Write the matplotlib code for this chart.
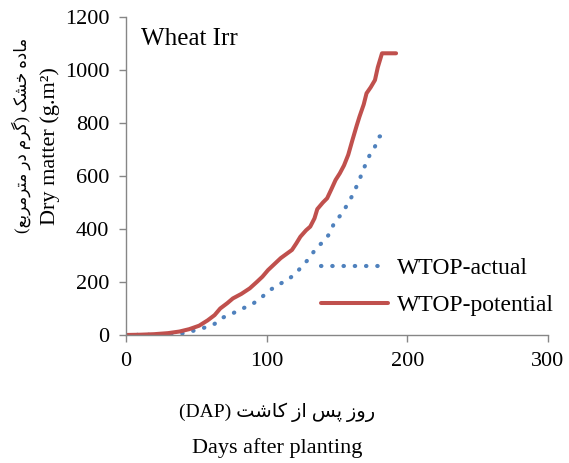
import matplotlib
matplotlib.use('Agg')
import matplotlib.pyplot as plt

# ---------------- data ----------------
days_act = [0, 20, 30, 40, 48, 56, 63, 69, 76, 83, 90, 96, 102, 108, 115, 121, 126,
            131, 135, 141, 145, 148, 153, 157, 161, 164, 167, 170, 173, 177, 180, 187]
wtop_act = [0, 1, 3, 6, 16, 28, 42, 66, 82, 100, 117, 140, 168, 189, 208, 234, 265,
            293, 328, 355, 385, 423, 455, 489, 527, 562, 600, 640, 676, 711, 749, 755]

days_pot = [0, 10, 20, 30, 38, 45, 52, 58, 63, 67, 72, 76, 82, 88, 93, 97, 101, 104,
            110, 118, 121, 124, 128, 131, 134, 136, 140, 143, 146, 149, 152, 155, 158,
            161, 164, 166, 169, 171, 174, 177, 179, 182, 192]
wtop_pot = [0, 1, 3, 7, 13, 22, 35, 55, 75, 100, 120, 138, 155, 176, 200, 220, 245, 260,
            290, 321, 345, 371, 395, 409, 440, 475, 500, 516, 550, 585, 610, 640, 680,
            736, 790, 824, 870, 912, 935, 962, 1010, 1063, 1063]

xticks = [0, 100, 200, 300]
yticks = [0, 200, 400, 600, 800, 1000, 1200]

# ---------------- persian text (matplotlib has no shaping / bidi) ----------------
FORMS = {
    'ا': '\ufe8d\ufe8e', 'د': '\ufea9\ufeaa', 'ر': '\ufead\ufeae',
    'ز': '\ufeaf\ufeb0', 'و': '\ufeed\ufeee',
    'ب': '\ufe8f\ufe90\ufe91\ufe92', 'ت': '\ufe95\ufe96\ufe97\ufe98',
    'خ': '\ufea5\ufea6\ufea7\ufea8', 'س': '\ufeb1\ufeb2\ufeb3\ufeb4',
    'ش': '\ufeb5\ufeb6\ufeb7\ufeb8', 'ع': '\ufec9\ufeca\ufecb\ufecc',
    'م': '\ufee1\ufee2\ufee3\ufee4', 'ه': '\ufee9\ufeea\ufeeb\ufeec',
    'پ': '\ufb56\ufb57\ufb58\ufb59', 'ک': '\ufb8e\ufb8f\ufb90\ufb91',
    'گ': '\ufb92\ufb93\ufb94\ufb95',
}

def rtl(s):
    out = []
    for i, c in enumerate(s):
        f = FORMS.get(c)
        if f is None:
            out.append(c)
            continue
        prev = s[i-1] if i > 0 else ''
        nxt = s[i+1] if i + 1 < len(s) else ''
        jp = len(FORMS.get(prev, '')) == 4
        jn = len(f) == 4 and nxt in FORMS
        out.append(f[jp + 2*jn])
    vis = ''.join(out)[::-1]
    return vis.translate(str.maketrans('()', ')('))

plt.rcParams['font.family'] = ['Liberation Serif', 'DejaVu Sans']

fig = plt.figure(figsize=(5.69, 4.63), dpi=100)
ax = fig.add_axes([0.2214, 0.2765, 0.7417, 0.6868])

ax.plot(days_act, wtop_act, color='#4F81BD', lw=3.0, linestyle=(0, (0.1, 2.6)),
        dash_capstyle='round', label='WTOP-actual')
ax.plot(days_pot, wtop_pot, color='#C0504D', lw=2.9, solid_capstyle='round',
        label='WTOP-potential')

ax.set_xlim(0, 300)
ax.set_ylim(0, 1200)
ax.set_xticks(xticks)
ax.set_yticks(yticks)
for s in ['top', 'right']:
    ax.spines[s].set_visible(False)
for s in ['left', 'bottom']:
    ax.spines[s].set_color('#868686')
    ax.spines[s].set_linewidth(1.0)
ax.tick_params(colors='#868686', labelcolor='black', length=5, width=1.0,
               labelsize=16, pad=7)

ax.text(0.035, 0.93, 'Wheat Irr', transform=ax.transAxes, fontsize=18,
        va='center', ha='left')

ax.legend(loc='center left', bbox_to_anchor=(0.565, 0.38),
          bbox_transform=fig.transFigure, frameon=False, fontsize=17,
          handlelength=2.8, handletextpad=0.4, labelspacing=0.65,
          borderpad=0, borderaxespad=0)

fig.text(0.088, 0.685, 'Dry matter (g.m²)', rotation=90, fontsize=16,
         ha='center', va='center')
fig.text(0.038, 0.708, rtl('ماده خشک (گرم در مترمربع)'), rotation=90,
         fontsize=12, ha='center', va='center')
fig.text(0.487, 0.110, '(DAP) ' + rtl('روز پس از کاشت'), fontsize=14,
         ha='center', va='center')
fig.text(0.487, 0.032, 'Days after planting', fontsize=16,
         ha='center', va='center')

fig.savefig('out.png', dpi=100)
